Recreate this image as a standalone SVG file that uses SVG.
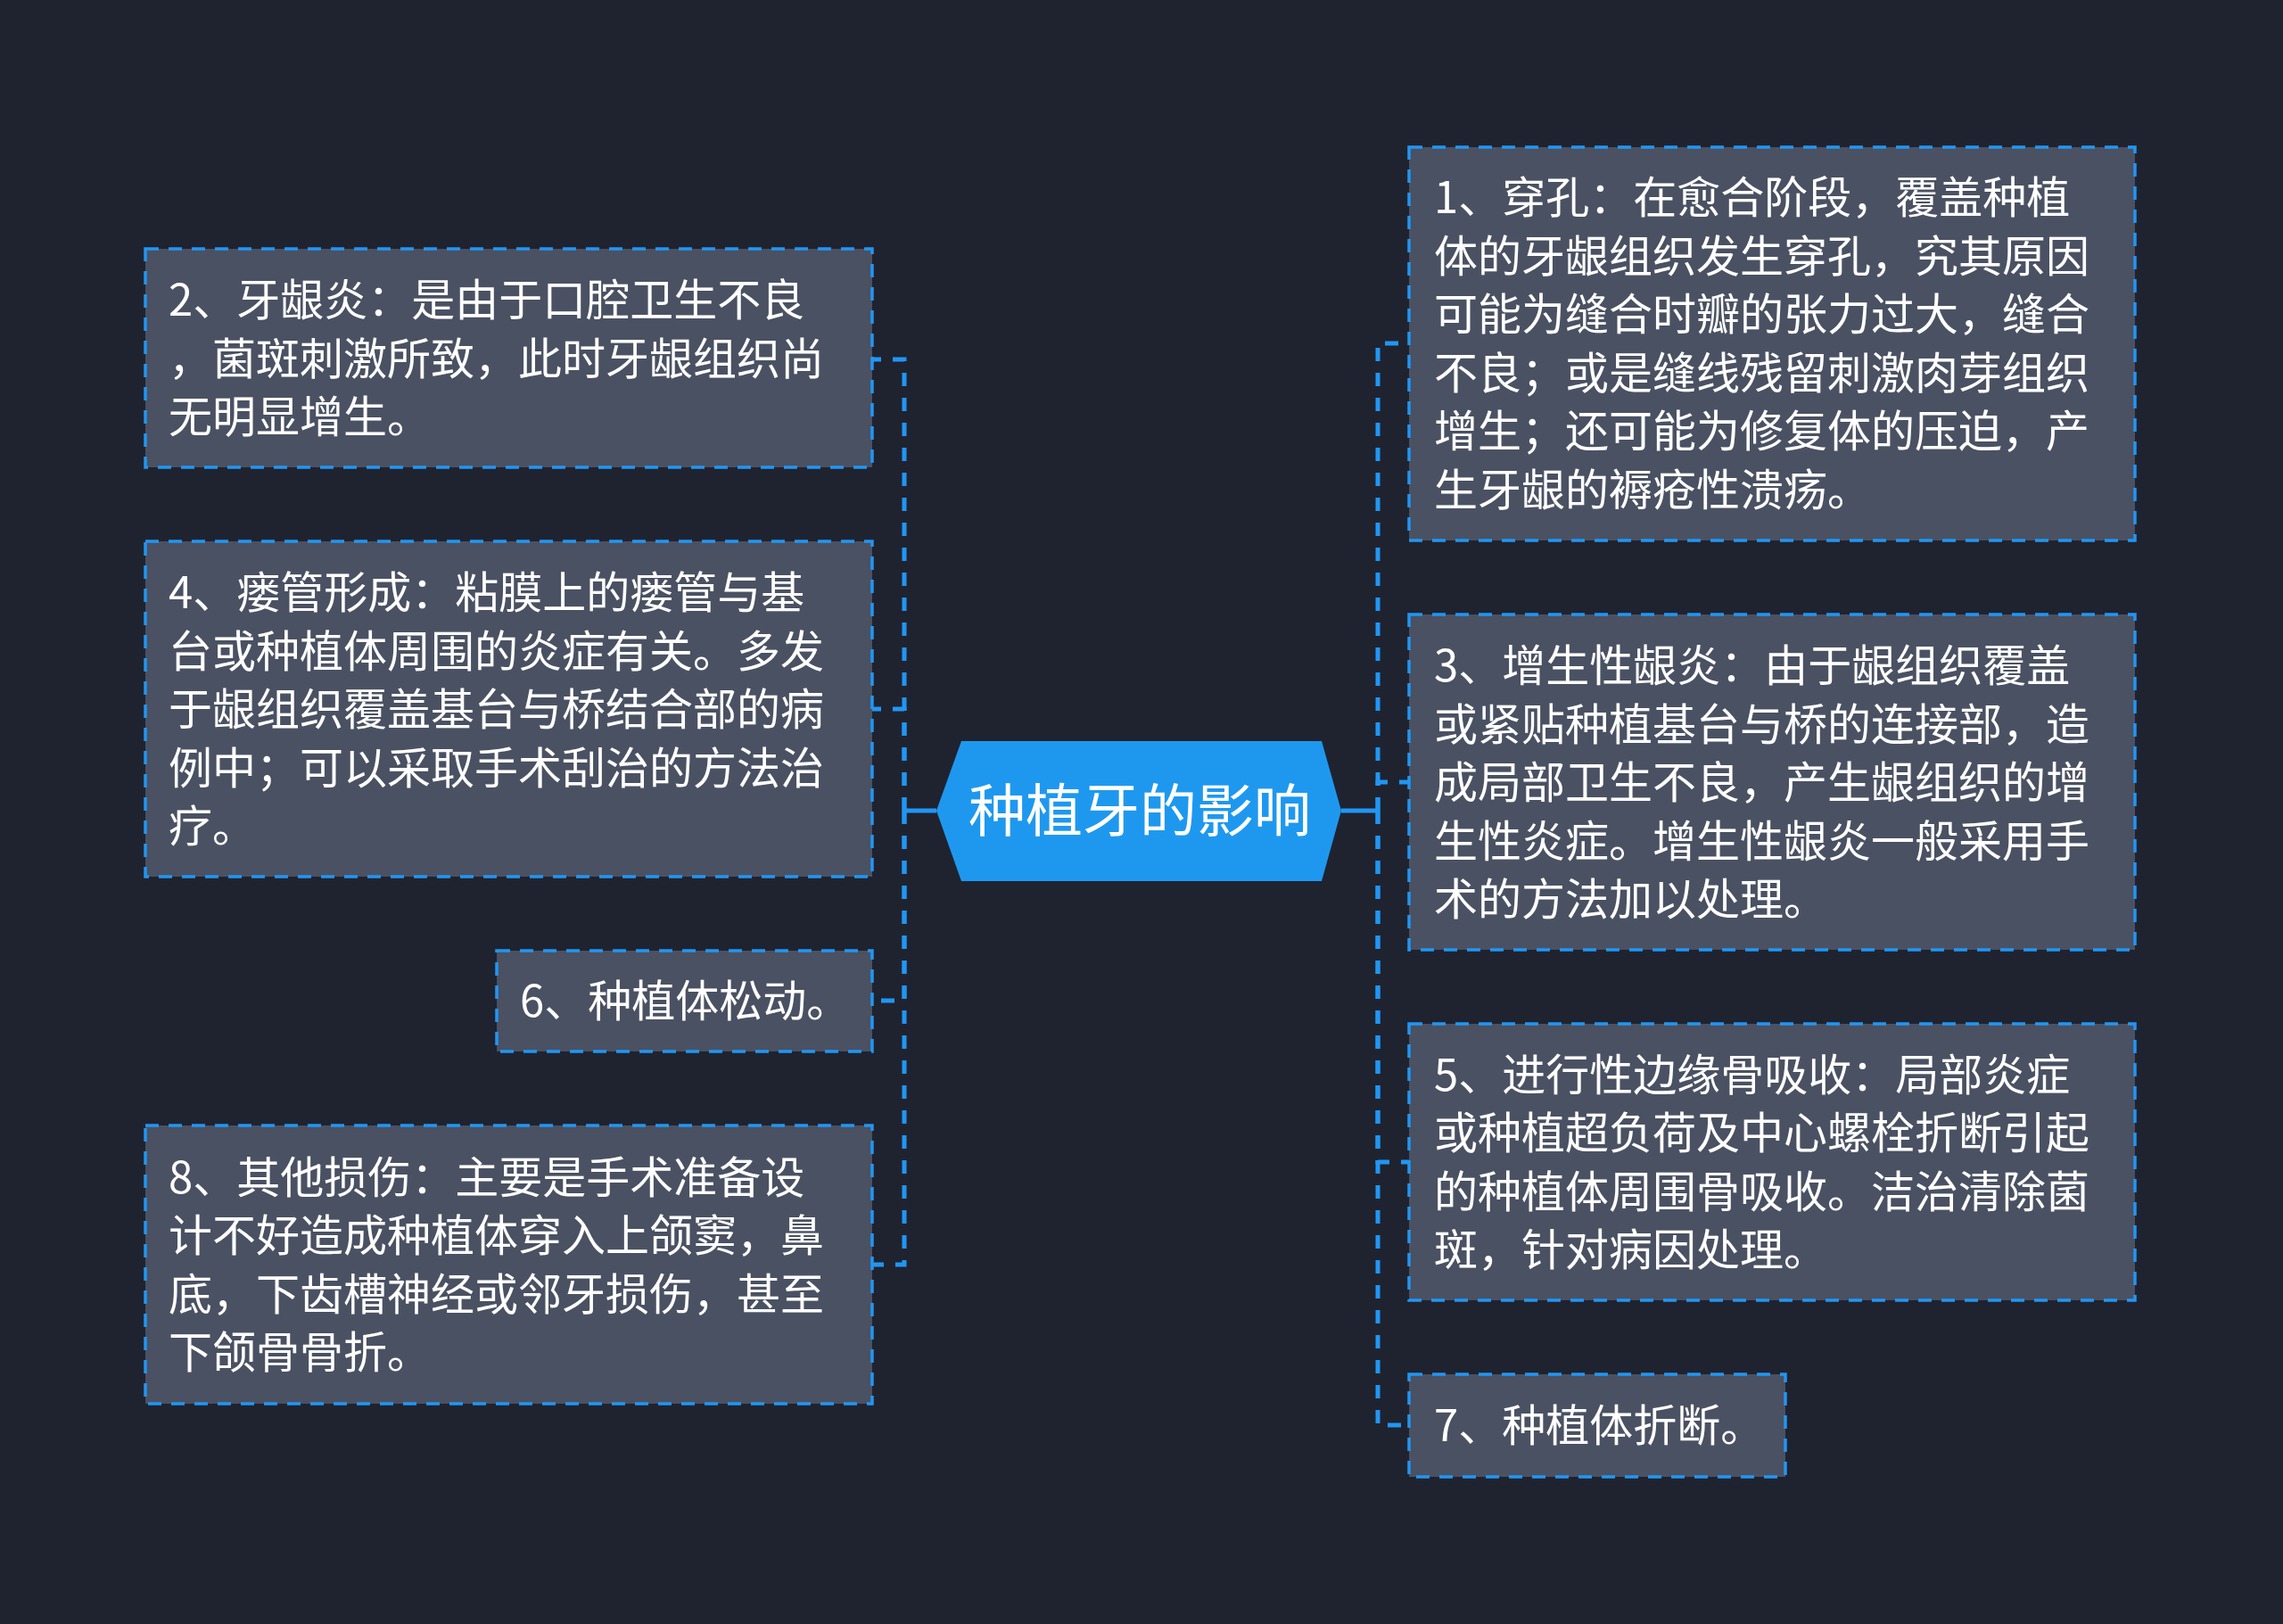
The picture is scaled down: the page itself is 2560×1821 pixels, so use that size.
<svg xmlns="http://www.w3.org/2000/svg" width="2560" height="1821" viewBox="0 0 2560 1821">
<style>
.bg{fill:#1f2330}
.box{fill:#4a5162;stroke:#2196f3;stroke-width:3.5;stroke-dasharray:15 11}
.t{font-family:"Noto Sans CJK SC","Noto Sans",sans-serif;font-size:49px;fill:#ffffff}
.ct{font-family:"Noto Sans CJK SC","Noto Sans",sans-serif;font-size:64px;fill:#ffffff;text-anchor:middle}
.c{fill:none;stroke:#2196f3;stroke-width:5;stroke-dasharray:15 13}
.s{fill:none;stroke:#2196f3;stroke-width:5}
</style>
<rect class="bg" x="0" y="0" width="2560" height="1821"/>
<g id="connectors">
<path class="s" d="M1050,909 H1014"/>
<path class="s" d="M1504,909 H1545"/>
<path class="c" d="M1014,909 V403 H978"/>
<path class="c" d="M1014,909 V795 H978"/>
<path class="c" d="M1014,909 V1122 H978"/>
<path class="c" d="M1014,909 V1418 H978"/>
<path class="c" d="M1545,909 V385 H1580"/>
<path class="c" d="M1545,909 V877 H1580"/>
<path class="c" d="M1545,909 V1303 H1580"/>
<path class="c" d="M1545,909 V1598 H1580"/>
</g>
<g id="center">
<polygon points="1078,831 1482,831 1504,909 1482,988 1078,988 1050,909" fill="#1e98ef"/>
<text class="ct" x="1278" y="932">种植牙的影响</text>
</g>
<g id="n1">
<rect class="box" x="1580" y="165" width="814" height="441"/>
<text class="t"><tspan x="1608" y="239">1、穿孔：在愈合阶段，覆盖种植</tspan><tspan x="1608" y="304.5">体的牙龈组织发生穿孔，究其原因</tspan><tspan x="1608" y="370">可能为缝合时瓣的张力过大，缝合</tspan><tspan x="1608" y="435.5">不良；或是缝线残留刺激肉芽组织</tspan><tspan x="1608" y="501">增生；还可能为修复体的压迫，产</tspan><tspan x="1608" y="566.5">生牙龈的褥疮性溃疡。</tspan></text>
</g>
<g id="n2">
<rect class="box" x="163" y="279" width="815" height="245"/>
<text class="t"><tspan x="189" y="354">2、牙龈炎：是由于口腔卫生不良</tspan><tspan x="189" y="419.5">，菌斑刺激所致，此时牙龈组织尚</tspan><tspan x="189" y="485">无明显增生。</tspan></text>
</g>
<g id="n3">
<rect class="box" x="1580" y="689" width="814" height="376"/>
<text class="t"><tspan x="1608" y="764">3、增生性龈炎：由于龈组织覆盖</tspan><tspan x="1608" y="829.5">或紧贴种植基台与桥的连接部，造</tspan><tspan x="1608" y="895">成局部卫生不良，产生龈组织的增</tspan><tspan x="1608" y="960.5">生性炎症。增生性龈炎一般采用手</tspan><tspan x="1608" y="1026">术的方法加以处理。</tspan></text>
</g>
<g id="n4">
<rect class="box" x="163" y="607" width="815" height="376"/>
<text class="t"><tspan x="189" y="682">4、瘘管形成：粘膜上的瘘管与基</tspan><tspan x="189" y="747.5">台或种植体周围的炎症有关。多发</tspan><tspan x="189" y="813">于龈组织覆盖基台与桥结合部的病</tspan><tspan x="189" y="878.5">例中；可以采取手术刮治的方法治</tspan><tspan x="189" y="944">疗。</tspan></text>
</g>
<g id="n5">
<rect class="box" x="1580" y="1148" width="814" height="310"/>
<text class="t"><tspan x="1608" y="1222.75">5、进行性边缘骨吸收：局部炎症</tspan><tspan x="1608" y="1288.25">或种植超负荷及中心螺栓折断引起</tspan><tspan x="1608" y="1353.75">的种植体周围骨吸收。洁治清除菌</tspan><tspan x="1608" y="1419.25">斑，针对病因处理。</tspan></text>
</g>
<g id="n6">
<rect class="box" x="557" y="1066" width="421" height="113"/>
<text class="t" x="583" y="1140">6、种植体松动。</text>
</g>
<g id="n7">
<rect class="box" x="1580" y="1541" width="422" height="115"/>
<text class="t" x="1608" y="1616">7、种植体折断。</text>
</g>
<g id="n8">
<rect class="box" x="163" y="1262" width="815" height="312"/>
<text class="t"><tspan x="189" y="1337.75">8、其他损伤：主要是手术准备设</tspan><tspan x="189" y="1403.25">计不好造成种植体穿入上颌窦，鼻</tspan><tspan x="189" y="1468.75">底，下齿槽神经或邻牙损伤，甚至</tspan><tspan x="189" y="1534.25">下颌骨骨折。</tspan></text>
</g>
</svg>
